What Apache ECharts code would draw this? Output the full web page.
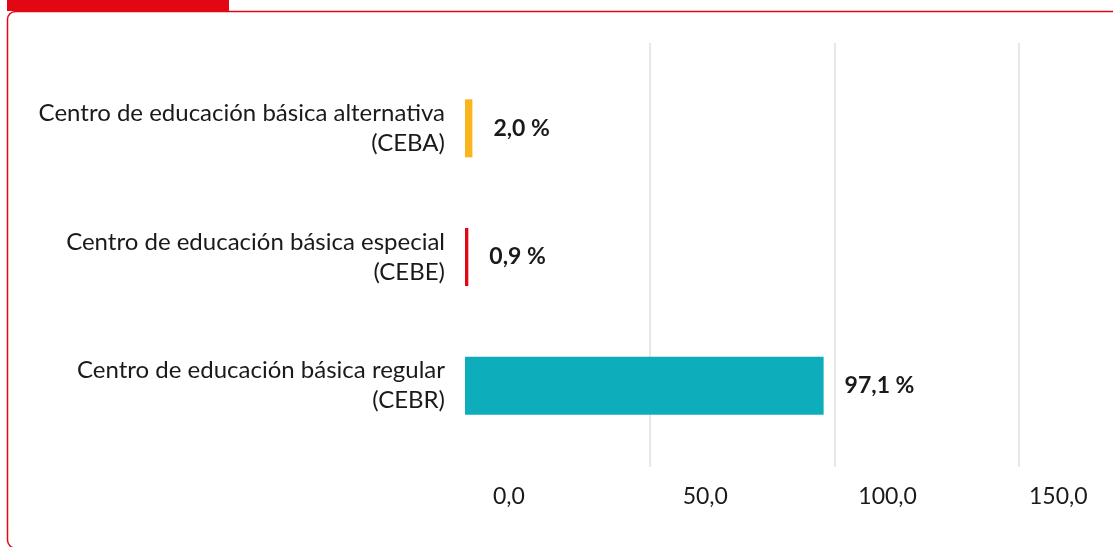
<!DOCTYPE html>
<html>
<head>
<meta charset="utf-8">
<script src="https://cdn.jsdelivr.net/npm/echarts@6/dist/echarts.min.js"></script>
<style>
html,body{margin:0;padding:0;background:#fff;}
#chart{width:1113px;height:547px;}
</style>
</head>
<body>
<div id="chart"></div>
<script>
// Data (top to bottom)
const categories = [
  'Centro de educación básica alternativa\n(CEBA)',
  'Centro de educación básica especial\n(CEBE)',
  'Centro de educación básica regular\n(CEBR)'
];
const values = [2.0, 0.9, 97.1];
const barColors = ['#FAB51E', '#E30613', '#0EADBC'];
const xTicks = [0, 50, 100, 150];

const fmt = v => v.toFixed(1).replace('.', ',');
const tickPad = {0: 28, 50: 33, 100: 24, 150: 10};

const chart = echarts.init(document.getElementById('chart'), null, {renderer: 'canvas'});
const rich = {};
xTicks.forEach(t => {
  rich['t' + t] = {fontFamily: 'Lato', fontSize: 23, color: '#1a1a1a', padding: [0, 0, 0, tickPad[t]]};
});

chart.setOption({
  animation: false,
  backgroundColor: '#fff',
  graphic: [
    {type: 'rect', shape: {x: 7.5, y: 11.5, width: 1130, height: 536.5, r: 8},
     style: {fill: 'none', stroke: '#E30613', lineWidth: 1.5}, silent: true},
    {type: 'rect', shape: {x: 7, y: 0, width: 222, height: 11},
     style: {fill: '#E30613'}, silent: true}
  ],
  grid: [
    {left: 465, right: 94, top: 64, height: 386},
    {left: 465, right: 94, top: 43, bottom: 80}
  ],
  xAxis: [
    {gridIndex: 0, type: 'value', min: 0, max: 150, interval: 50,
     axisLine: {show: false}, axisTick: {show: false}, axisLabel: {show: false}, splitLine: {show: false}},
    {gridIndex: 1, type: 'value', min: 0, max: 150, interval: 50,
     axisLine: {show: false}, axisTick: {show: false},
     splitLine: {show: true, lineStyle: {color: ['rgba(0,0,0,0)', '#e3e1dc', '#e3e1dc', '#e3e1dc'], width: 1.5}},
     axisLabel: {margin: 18, align: 'left', rich: rich,
       formatter: v => '{t' + v + '|' + fmt(v) + '}'}}
  ],
  yAxis: [
    {gridIndex: 0, type: 'category', data: categories, inverse: true,
     axisLine: {show: false}, axisTick: {show: false},
     axisLabel: {margin: 20, fontFamily: 'Lato', fontSize: 24, color: '#1a1a1a', lineHeight: 30, align: 'right',
       padding: [0, 0, 4, 0]}},
    {gridIndex: 1, type: 'category', data: categories, inverse: true, show: false}
  ],
  series: [{
    type: 'bar', xAxisIndex: 0, yAxisIndex: 0,
    barWidth: 58,
    data: values.map((v, i) => ({value: v, itemStyle: {color: barColors[i]}})),
    label: {show: true, position: 'right', distance: 21,
      fontFamily: 'Lato', fontWeight: 'bold', fontSize: 23, color: '#1a1a1a',
      formatter: p => fmt(p.value) + ' %'}
  }]
});
</script>
</body>
</html>
